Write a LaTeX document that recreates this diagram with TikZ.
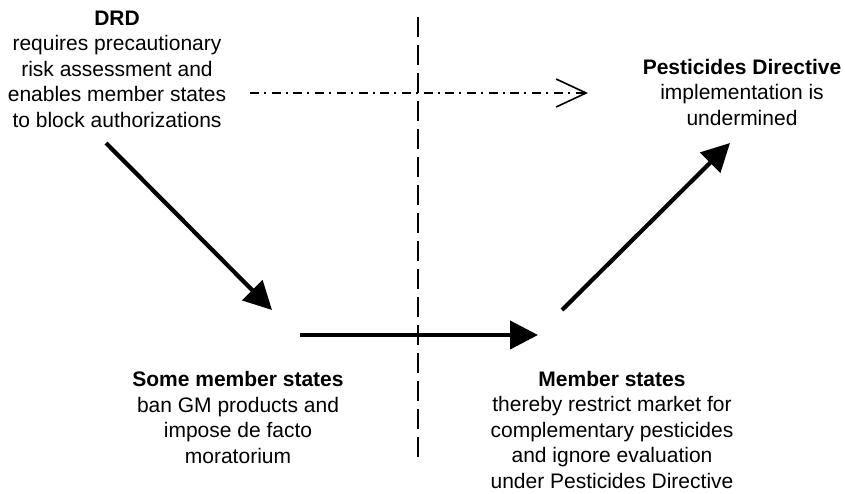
\documentclass[tikz,border=0pt]{standalone}
\usepackage{fontspec}
\setmainfont{Liberation Sans}
\usetikzlibrary{arrows.meta}
\tikzset{
  txt/.style={font=\fontsize{21}{25.5}\selectfont, align=center, inner sep=0pt, anchor=base},
  bigarrow/.style={line width=4.2pt, -{Triangle[length=28pt,width=28pt]}},
  ddarrow/.style={line width=1.6pt, dash pattern=on 9pt off 5pt on 2pt off 5.7pt,
    -{Straight Barb[length=30pt,width=28pt,line width=1.6pt]}},
  divider/.style={line width=1.8pt, dash pattern=on 20pt off 8pt}
}
\begin{document}
\begin{tikzpicture}[x=1pt,y=-1pt]
\useasboundingbox (0,0) rectangle (845,493);
% anchor=base sits on the baseline of the last line
\node[txt] (drd) at (117,127) {\textbf{DRD}\\requires precautionary\\risk assessment and\\enables member states\\to block authorizations};
\node[txt] (pd) at (742,125) {\textbf{Pesticides Directive}\\implementation is\\undermined};
\node[txt] (sms) at (238,463) {\textbf{Some member states}\\ban GM products and\\impose de facto\\moratorium};
\node[txt] (ms) at (612,488) {\textbf{Member states}\\thereby restrict market for\\complementary pesticides\\and ignore evaluation\\under Pesticides Directive};
\coordinate (vtop) at (418,17);
\coordinate (vbot) at (418,460);
\coordinate (a1s) at (106,143);
\coordinate (a1e) at (272,310);
\coordinate (a2s) at (300,335);
\coordinate (a2e) at (538,335);
\coordinate (a3s) at (562,310);
\coordinate (a3e) at (730,143);
\coordinate (dds) at (250,93);
\coordinate (dde) at (588,93);
\draw[divider] (vtop) -- (vbot);
\draw[ddarrow] (dds) -- (dde);
\draw[bigarrow] (a1s) -- (a1e);
\draw[bigarrow] (a2s) -- (a2e);
\draw[bigarrow] (a3s) -- (a3e);
\end{tikzpicture}
\end{document}
